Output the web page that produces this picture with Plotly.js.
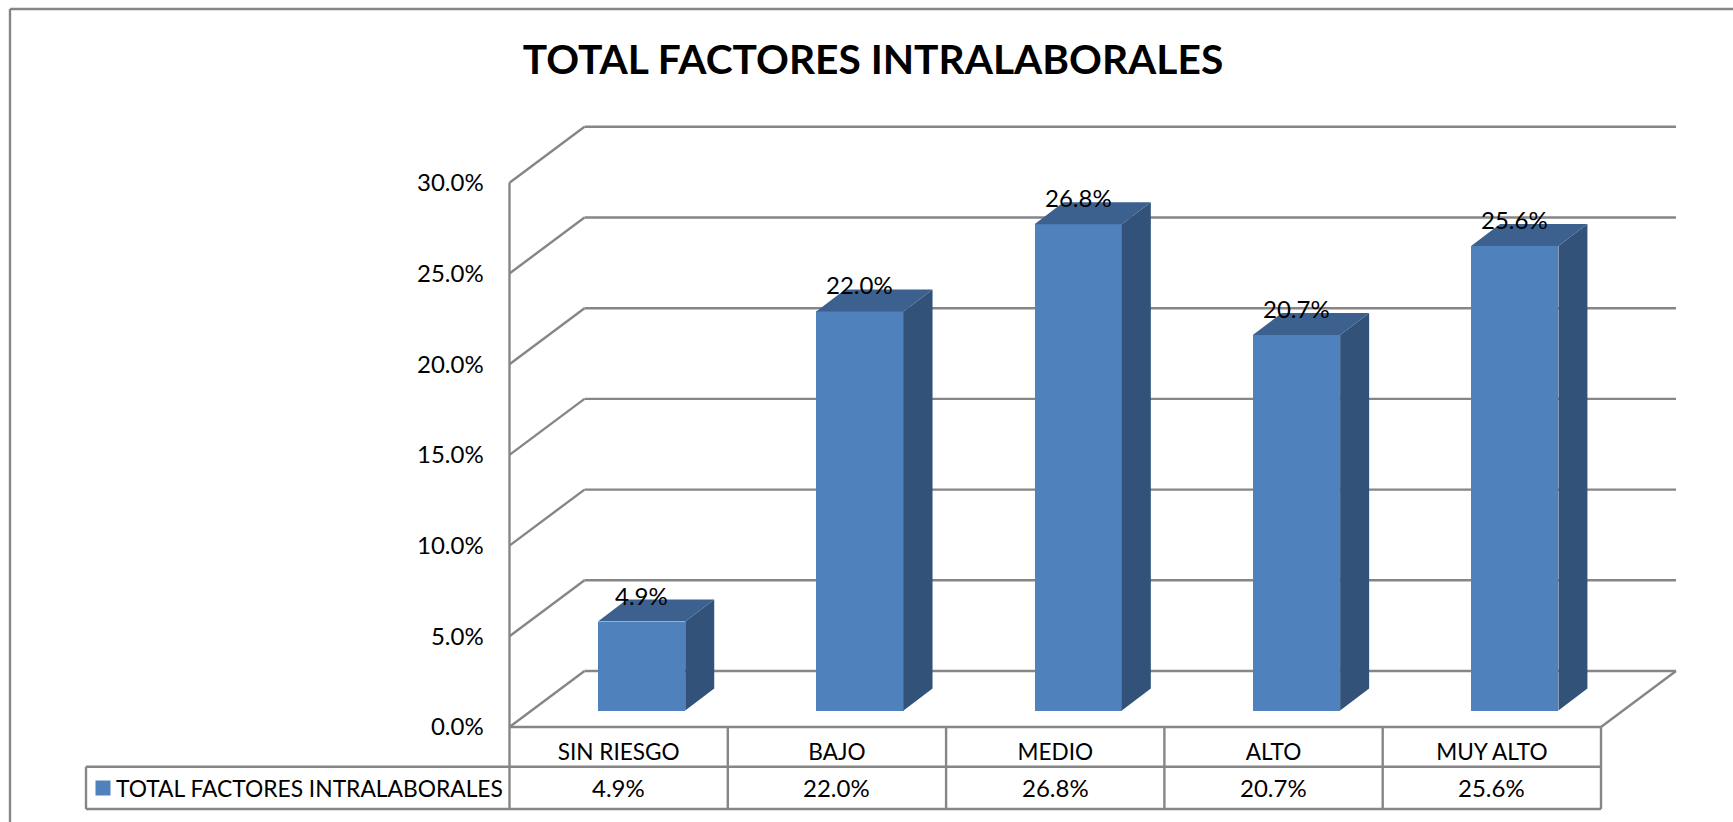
<!DOCTYPE html>
<html>
<head>
<meta charset="utf-8">
<script src="https://cdn.plot.ly/plotly-3.0.1.min.js"></script>
<style>html,body{margin:0;padding:0;background:#fff;overflow:hidden}#chart{width:1733px;height:822px}</style>
</head>
<body>
<div id="chart"></div>
<script>
// Chart content
const chartTitle = 'TOTAL FACTORES INTRALABORALES';
const seriesName = 'TOTAL FACTORES INTRALABORALES';
const categories = ['SIN RIESGO', 'BAJO', 'MEDIO', 'ALTO', 'MUY ALTO'];
const values = [4.9, 22.0, 26.8, 20.7, 25.6];
const yTicks = [0, 5, 10, 15, 20, 25, 30];

// Page scale: one category and one percentage point, in pixels
const W = 1733, H = 822;
const originX = 509.5, originY = 727;
const pxPerCat = 218.3, pxPerPct = 18.14;
const toX = px => (px - originX) / pxPerCat;
const toY = py => (originY - py) / pxPerPct;

// Oblique projection of the box: wall depth and bar depth, in axis units
const wallDx = 75 / pxPerCat, wallDy = 56 / pxPerPct;
const barInsetY = 16.5 / pxPerPct;
const barDx = 29 / pxPerCat, barDy = 22 / pxPerPct;
const barOffset = 0.105, barWidth = 0.4;

const GRID = '#868686';
const FONT = 'Lato, Carlito, "Open Sans", sans-serif';

const line = (x0, y0, x1, y1, width = 2.4) => ({
  type: 'line', xref: 'x', yref: 'y', layer: 'below',
  x0, y0, x1, y1, line: {color: GRID, width}
});

const nCat = categories.length;
const shapes = [];

// Back wall gridlines with their oblique returns to the front edge
yTicks.forEach(t => {
  shapes.push(line(wallDx, t + wallDy, nCat + wallDx, t + wallDy));
  shapes.push(line(0, t, wallDx, t + wallDy));
});
shapes.push(line(0, 0, 0, yTicks[yTicks.length - 1]));
shapes.push(line(nCat, 0, nCat + wallDx, wallDy));

// Data table under the floor
const rowMid = toY(766.7), rowEnd = toY(809);
const tableLeft = toX(86);
shapes.push(line(0, 0, nCat, 0));
shapes.push(line(tableLeft, rowMid, nCat, rowMid));
shapes.push(line(tableLeft, rowEnd, nCat, rowEnd));
shapes.push(line(tableLeft, rowMid, tableLeft, rowEnd));
for (let i = 0; i <= nCat; i++) shapes.push(line(i, 0, i, rowEnd));

// Outer chart border: left and top edges only
shapes.push(line(toX(10), toY(9), toX(10), toY(H)));
shapes.push(line(toX(10), toY(9), toX(W), toY(9)));

const barCentres = categories.map((_, i) => i + 0.5 + barOffset);
const tops = values.map(v => v + barInsetY);

// Front faces
const frontFaces = {
  type: 'bar', x: barCentres, y: values, base: barInsetY, width: barWidth,
  name: seriesName, marker: {color: '#4f81bd', line: {width: 0}},
  hoverinfo: 'skip', showlegend: false
};

// Side and top faces traced as closed polygons
const sideX = [], sideY = [], topX = [], topY = [];
barCentres.forEach((c, i) => {
  const l = c - barWidth / 2, r = c + barWidth / 2, t = tops[i];
  sideX.push(r, r + barDx, r + barDx, r, r, null);
  sideY.push(barInsetY, barInsetY + barDy, t + barDy, t, barInsetY, null);
  topX.push(l, r, r + barDx, l + barDx, l, null);
  topY.push(t, t, t + barDy, t + barDy, t, null);
});
const face = (x, y, color) => ({
  type: 'scatter', mode: 'lines', x, y, fill: 'toself', fillcolor: color,
  line: {width: 0}, hoverinfo: 'skip', showlegend: false
});

// Series key in the table's first column
const keyMarker = {
  type: 'scatter', mode: 'markers', x: [toX(103)], y: [toY(788)],
  marker: {symbol: 'square', size: 15, color: '#4f81bd'},
  hoverinfo: 'skip', showlegend: false
};

const pct = v => v.toFixed(1) + '%';
const annotations = [];
// Labels over the bars
values.forEach((v, i) => annotations.push({
  x: barCentres[i], y: tops[i], text: pct(v), showarrow: false,
  yanchor: 'bottom', yshift: 10, xanchor: 'center',
  font: {family: FONT, size: 24, color: '#000'}
}));
// Value row of the table
values.forEach((v, i) => annotations.push({
  x: i + 0.5, y: (rowMid + rowEnd) / 2, text: pct(v), showarrow: false,
  font: {family: FONT, size: 24, color: '#000'}
}));
annotations.push({
  x: toX(114), y: (rowMid + rowEnd) / 2, text: seriesName, showarrow: false,
  xanchor: 'left', font: {family: FONT, size: 22.8, color: '#000'}
});

const layout = {
  width: W, height: H,
  margin: {l: 0, r: 0, t: 0, b: 0, pad: 0},
  paper_bgcolor: '#fff', plot_bgcolor: '#fff',
  showlegend: false,
  title: {
    text: '<b>' + chartTitle + '</b>', x: 873 / W, xanchor: 'center',
    y: 1 - 60 / H, yanchor: 'middle',
    font: {family: FONT, size: 40.7, color: '#000'}
  },
  xaxis: {
    range: [toX(0), toX(W)], anchor: 'free', position: (H - originY) / H,
    tickmode: 'array', tickvals: categories.map((_, i) => i + 0.5), ticktext: categories,
    ticks: 'outside', ticklen: 5, tickcolor: 'rgba(0,0,0,0)', tickangle: 0,
    tickfont: {family: FONT, size: 22.6, color: '#000'},
    showgrid: false, zeroline: false, showline: false, fixedrange: true
  },
  yaxis: {
    range: [toY(H), toY(0)], anchor: 'free', position: originX / W,
    tickmode: 'array', tickvals: yTicks, ticktext: yTicks.map(pct),
    ticks: 'outside', ticklen: 21, tickcolor: 'rgba(0,0,0,0)',
    tickfont: {family: FONT, size: 24, color: '#000'},
    showgrid: false, zeroline: false, showline: false, fixedrange: true
  },
  bargap: 0,
  shapes, annotations
};

Plotly.newPlot('chart', [frontFaces, face(sideX, sideY, '#32527a'), face(topX, topY, '#3d618f'), keyMarker],
  layout, {displayModeBar: false, staticPlot: true});
</script>
</body>
</html>
